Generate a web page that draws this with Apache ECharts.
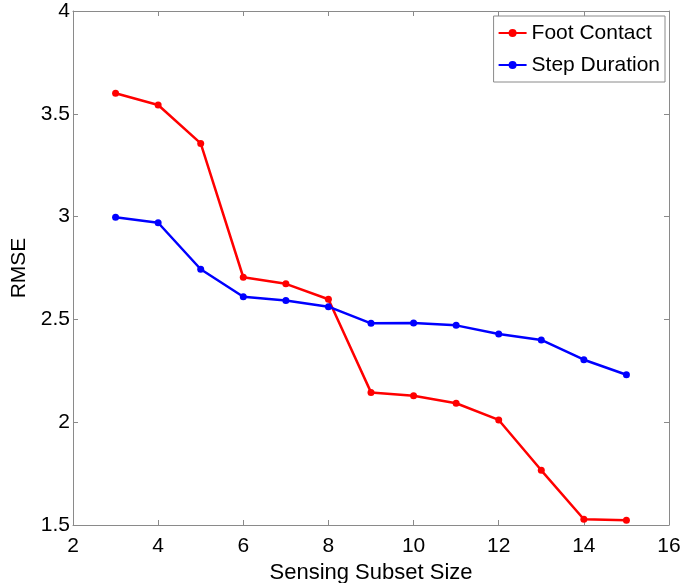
<!DOCTYPE html>
<html>
<head>
<meta charset="utf-8">
<script src="https://cdn.jsdelivr.net/npm/echarts@6/dist/echarts.min.js"></script>
<style>
html,body{margin:0;padding:0;background:#fff;}
#chart{width:683px;height:583px;}
</style>
</head>
<body>
<div id="chart"></div>
<script>
const subsetSizes = [3, 4, 5, 6, 7, 8, 9, 10, 11, 12, 13, 14, 15];
const footContact = [3.600, 3.543, 3.356, 2.705, 2.673, 2.598, 2.145, 2.129, 2.092, 2.011, 1.766, 1.528, 1.523];
const stepDuration = [2.997, 2.970, 2.744, 2.610, 2.592, 2.562, 2.481, 2.482, 2.471, 2.429, 2.400, 2.304, 2.231];
const xTicks = [2, 4, 6, 8, 10, 12, 14, 16];
const yTicks = [1.5, 2, 2.5, 3, 3.5, 4];

const FONT = "'Liberation Sans', Arial, Helvetica, sans-serif";
const AX = '#8a8a8a';
const chart = echarts.init(document.getElementById('chart'), null, {renderer: 'canvas'});

function pair(xs, ys) { return xs.map((x, i) => [x, ys[i]]); }

const baseX = {
  type: 'value', min: xTicks[0], max: xTicks[xTicks.length - 1], interval: 2,
  axisLine: {show: true, onZero: false, lineStyle: {color: AX, width: 1}},
  axisTick: {show: true, inside: true, length: 5, lineStyle: {color: AX}},
  splitLine: {show: false}
};
const baseY = {
  type: 'value', min: yTicks[0], max: yTicks[yTicks.length - 1], interval: 0.5,
  axisLine: {show: true, onZero: false, lineStyle: {color: AX, width: 1}},
  axisTick: {show: true, inside: true, length: 5, lineStyle: {color: AX}},
  splitLine: {show: false}
};

chart.setOption({
  animation: false,
  backgroundColor: '#fff',
  textStyle: {fontFamily: FONT},
  grid: {left: 73, right: 14, top: 11, bottom: 58, containLabel: false, outerBoundsMode: 'none'},
  legend: {
    orient: 'vertical', right: 18, top: 16,
    backgroundColor: '#fff', borderColor: AX, borderWidth: 1,
    padding: [5, 5, 5, 4], itemGap: 8, itemWidth: 28, itemHeight: 10,
    textStyle: {fontFamily: FONT, fontSize: 21, lineHeight: 24, color: '#000'},
    data: ['Foot Contact', 'Step Duration']
  },
  xAxis: [
    Object.assign({}, baseX, {
      position: 'bottom',
      name: 'Sensing Subset Size', nameLocation: 'middle', nameGap: 32,
      nameTextStyle: {fontFamily: FONT, fontSize: 22, color: '#000'},
      axisLabel: {show: true, fontFamily: FONT, fontSize: 21, color: '#000', margin: 11}
    }),
    Object.assign({}, baseX, {position: 'top', axisLabel: {show: false}})
  ],
  yAxis: [
    Object.assign({}, baseY, {
      position: 'left',
      name: 'RMSE', nameLocation: 'middle', nameGap: 41,
      nameTextStyle: {fontFamily: FONT, fontSize: 21, color: '#000'},
      axisLabel: {show: true, fontFamily: FONT, fontSize: 21, color: '#000', margin: 3, padding: [5, 0, 0, 0]}
    }),
    Object.assign({}, baseY, {position: 'right', axisLabel: {show: false}})
  ],
  series: [
    {
      name: 'Foot Contact', type: 'line', xAxisIndex: 0, yAxisIndex: 0,
      data: pair(subsetSizes, footContact),
      symbol: 'circle', symbolSize: 7, showAllSymbol: true,
      lineStyle: {color: '#ff0000', width: 2.5},
      itemStyle: {color: '#ff0000'}
    },
    {
      name: 'Step Duration', type: 'line', xAxisIndex: 0, yAxisIndex: 0,
      data: pair(subsetSizes, stepDuration),
      symbol: 'circle', symbolSize: 7, showAllSymbol: true,
      lineStyle: {color: '#0000ff', width: 2.5},
      itemStyle: {color: '#0000ff'}
    }
  ]
});
</script>
</body>
</html>
